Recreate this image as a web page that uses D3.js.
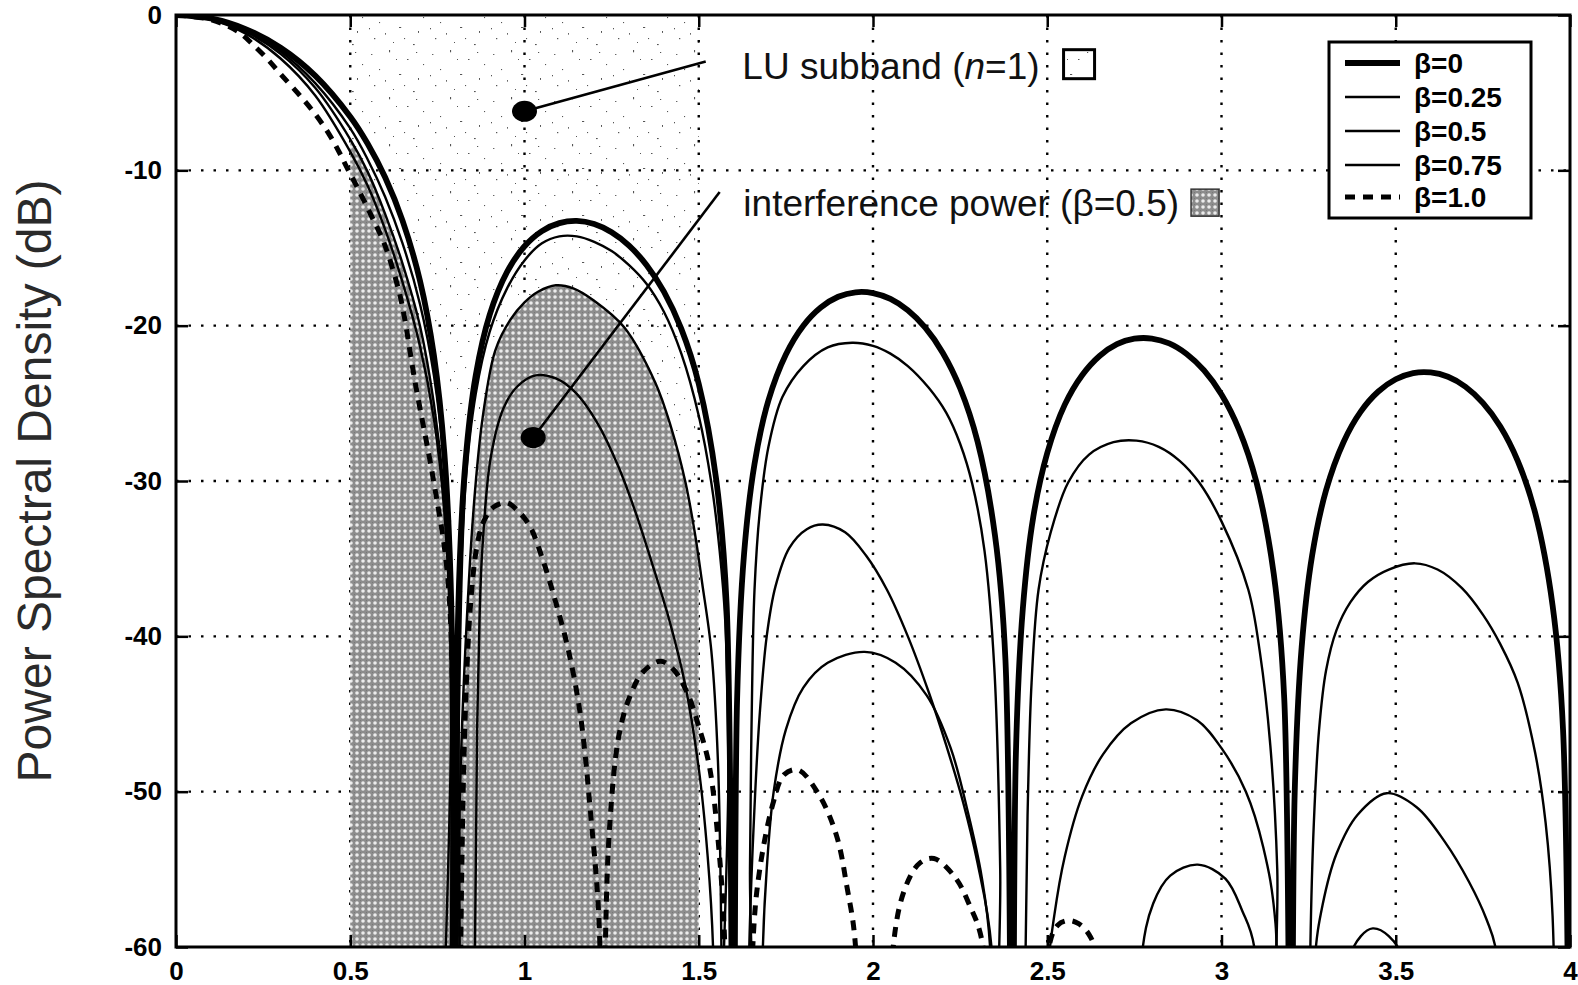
<!DOCTYPE html>
<html><head><meta charset="utf-8">
<script src="https://cdn.jsdelivr.net/npm/d3@7"></script>
<style>body{margin:0;background:#fff}svg{display:block}</style>
</head><body>
<svg id="chart" width="1578" height="985"></svg>
<script>
// ---------- data ----------
const xTicks = [0, 0.5, 1, 1.5, 2, 2.5, 3, 3.5, 4];
const xTickLabels = ["0", "0.5", "1", "1.5", "2", "2.5", "3", "3.5", "4"];
const yTicks = [0, -10, -20, -30, -40, -50, -60];
const yTickLabels = ["0", "-10", "-20", "-30", "-40", "-50", "-60"];
const seriesNames = ["β=0", "β=0.25", "β=0.5", "β=0.75", "β=1.0"];

const beta0 = [
[0,0],[0.1,-0.22],[0.2,-0.91],[0.3,-2.11],[0.4,-3.92],[0.5,-6.55],[0.55,-8.29],[0.6,-10.45],[0.65,-13.24],[0.7,-17.1],[0.74,-21.9],[0.77,-28.2],[0.79,-38.0],[0.8,-90],
[0.81,-38.2],[0.83,-28.9],[0.86,-23.2],[0.9,-19.3],[0.95,-16.54],[1.0,-14.89],[1.05,-13.91],[1.1,-13.4],[1.15,-13.26],[1.2,-13.46],[1.25,-13.99],[1.3,-14.85],[1.35,-16.09],[1.4,-17.81],[1.45,-20.21],[1.5,-23.75],[1.55,-29.9],[1.58,-37.96],[1.6,-90],
[1.61,-44.1],[1.63,-34.7],[1.66,-28.9],[1.7,-24.8],[1.75,-21.85],[1.8,-20.0],[1.85,-18.83],[1.9,-18.14],[1.95,-17.85],[2.0,-17.9],[2.05,-18.28],[2.1,-19.01],[2.15,-20.13],[2.2,-21.74],[2.25,-24.03],[2.3,-27.46],[2.35,-33.5],[2.38,-41.5],[2.4,-90],
[2.41,-47.6],[2.43,-38.2],[2.46,-32.3],[2.5,-28.2],[2.55,-25.1],[2.6,-23.19],[2.65,-21.95],[2.7,-21.19],[2.75,-20.84],[2.8,-20.83],[2.85,-21.14],[2.9,-21.82],[2.95,-22.88],[3.0,-24.43],[3.05,-26.67],[3.1,-30.05],[3.15,-36.0],[3.18,-44.0],[3.2,-90],
[3.21,-50.1],[3.23,-40.7],[3.26,-34.8],[3.3,-30.6],[3.35,-27.5],[3.4,-25.52],[3.45,-24.24],[3.5,-23.45],[3.55,-23.05],[3.6,-23.01],[3.65,-23.29],[3.7,-23.93],[3.75,-24.97],[3.8,-26.49],[3.85,-28.7],[3.9,-32.05],[3.95,-38.0],[3.98,-46.0],[4.0,-90]
];
const beta25 = [
[0,0],[0.1,-0.25],[0.2,-1.0],[0.3,-2.35],[0.4,-4.4],[0.5,-7.3],[0.55,-9.3],[0.6,-11.7],[0.65,-14.7],[0.7,-18.6],[0.74,-23.2],[0.77,-29.2],[0.79,-39],[0.8,-90],
[0.805,-90],[0.812,-45],[0.83,-30.5],[0.86,-24.4],[0.9,-20.4],[0.95,-17.6],[1.0,-15.8],[1.05,-14.7],[1.1,-14.25],[1.15,-14.25],[1.2,-14.6],[1.25,-15.2],[1.3,-16.1],[1.35,-17.3],[1.4,-19.1],[1.45,-21.8],[1.5,-25.8],[1.536,-30.1],[1.56,-34.5],[1.576,-39],[1.585,-48],[1.59,-90],
[1.64,-90],[1.647,-55],[1.652,-45],[1.66,-37],[1.675,-32],[1.7,-27.8],[1.74,-24.6],[1.8,-22.6],[1.87,-21.4],[1.94,-21.1],[2.0,-21.3],[2.05,-21.8],[2.1,-22.6],[2.16,-24.0],[2.21,-25.6],[2.25,-27.6],[2.285,-30.2],[2.32,-34.5],[2.348,-42],[2.365,-55],[2.372,-90],
[2.43,-90],[2.438,-60],[2.445,-50],[2.455,-43],[2.475,-37],[2.51,-33.3],[2.56,-30.1],[2.62,-28.3],[2.69,-27.5],[2.756,-27.4],[2.82,-27.8],[2.88,-28.7],[2.936,-30.1],[3.0,-32.6],[3.077,-37],[3.11,-41],[3.14,-47],[3.16,-55],[3.17,-90],
[3.245,-90],[3.255,-60],[3.265,-52],[3.28,-46],[3.3,-42.2],[3.33,-39.6],[3.37,-37.8],[3.42,-36.5],[3.48,-35.7],[3.555,-35.3],[3.62,-35.7],[3.69,-36.9],[3.75,-38.6],[3.8,-40.5],[3.85,-43],[3.9,-47.5],[3.93,-52],[3.95,-58],[3.965,-90]
];
const beta5 = [
[0,0],[0.1,-0.27],[0.2,-1.08],[0.3,-2.5],[0.4,-4.7],[0.5,-8.0],[0.55,-10.1],[0.6,-12.8],[0.65,-16.0],[0.7,-20.0],[0.74,-25],[0.77,-31],[0.79,-41],[0.8,-90],
[0.805,-90],[0.815,-50],[0.84,-36.6],[0.86,-30.1],[0.88,-25.9],[0.916,-21.6],[0.96,-19.6],[1.0,-18.5],[1.04,-17.8],[1.09,-17.4],[1.14,-17.6],[1.2,-18.4],[1.286,-20.1],[1.376,-23.7],[1.42,-26.5],[1.462,-30.1],[1.49,-33.5],[1.5,-35.0],[1.51,-36.6],[1.536,-40.9],[1.555,-48],[1.565,-60],[1.57,-90],
[1.63,-90],[1.645,-60],[1.66,-51],[1.675,-45],[1.695,-40],[1.72,-36.8],[1.76,-34.3],[1.81,-33.1],[1.856,-32.8],[1.92,-33.3],[1.98,-34.8],[2.04,-37.0],[2.1,-40.0],[2.16,-43.6],[2.21,-47.0],[2.26,-50.8],[2.3,-54.6],[2.34,-60],[2.352,-90],
[2.49,-90],[2.5,-62],[2.52,-58],[2.55,-54.2],[2.6,-50.3],[2.66,-47.6],[2.74,-45.6],[2.84,-44.7],[2.93,-45.4],[3.0,-47.2],[3.07,-50],[3.12,-53.6],[3.155,-58.5],[3.168,-90],
[3.255,-90],[3.267,-61],[3.29,-57.3],[3.33,-54],[3.39,-51.5],[3.474,-50.1],[3.56,-51.0],[3.64,-53.2],[3.71,-55.8],[3.76,-58.2],[3.79,-60.5],[3.8,-90]
];
const beta75 = [
[0,0],[0.1,-0.3],[0.2,-1.2],[0.3,-2.8],[0.4,-5.2],[0.5,-8.8],[0.55,-11.0],[0.6,-13.8],[0.65,-17.2],[0.7,-21.3],[0.74,-26],[0.77,-32],[0.79,-42],[0.8,-90],
[0.85,-90],[0.858,-60],[0.864,-46],[0.871,-38.8],[0.879,-34.4],[0.903,-28.5],[0.94,-25.3],[0.98,-23.9],[1.032,-23.2],[1.09,-23.4],[1.146,-24.3],[1.21,-26.3],[1.27,-29.1],[1.32,-32.1],[1.366,-35.3],[1.416,-39.0],[1.46,-43],[1.5,-48.5],[1.525,-54],[1.541,-60],[1.55,-90],
[1.675,-90],[1.684,-60],[1.695,-55],[1.715,-50],[1.75,-46],[1.8,-43.3],[1.87,-41.7],[1.976,-41.0],[2.065,-41.7],[2.154,-43.8],[2.223,-47.2],[2.272,-51.3],[2.312,-55.5],[2.336,-60],[2.345,-90],
[2.76,-90],[2.769,-61],[2.804,-57.2],[2.853,-55.4],[2.932,-54.7],[3.011,-55.6],[3.06,-57.7],[3.094,-60],[3.1,-90],
[3.355,-90],[3.365,-61],[3.40,-59.3],[3.434,-58.8],[3.48,-59.3],[3.523,-61],[3.53,-90]
];
const beta10 = [
[0,0],[0.1,-0.3],[0.18,-1.1],[0.225,-2.0],[0.265,-2.9],[0.3,-3.8],[0.36,-5.3],[0.4,-6.4],[0.44,-7.7],[0.47,-8.9],[0.49,-9.8],[0.525,-11.3],[0.56,-12.9],[0.59,-14.3],[0.61,-15.5],[0.64,-17.8],[0.655,-19.4],[0.685,-23.5],[0.74,-30.1],[0.778,-35.8],[0.795,-45],[0.805,-90],
[0.81,-90],[0.817,-60],[0.83,-45],[0.845,-38],[0.862,-34.4],[0.881,-32.7],[0.91,-31.7],[0.948,-31.4],[0.98,-31.9],[1.015,-32.9],[1.053,-35.1],[1.092,-38.0],[1.126,-40.9],[1.16,-45],[1.19,-51.5],[1.215,-59],[1.222,-90],
[1.226,-90],[1.232,-60],[1.245,-52],[1.27,-46.5],[1.3,-44],[1.34,-42.3],[1.39,-41.6],[1.43,-42.2],[1.47,-43.8],[1.5,-45.8],[1.53,-48.3],[1.555,-53],[1.575,-60],[1.585,-90],
[1.645,-90],[1.655,-60],[1.675,-55],[1.715,-50.6],[1.745,-48.9],[1.785,-48.6],[1.845,-50.2],[1.895,-52.8],[1.925,-56.1],[1.95,-60],[1.96,-90],
[2.05,-90],[2.058,-60],[2.094,-56.1],[2.134,-54.6],[2.175,-54.3],[2.235,-55.5],[2.275,-57.2],[2.315,-59.9],[2.325,-90],
[2.495,-90],[2.505,-60],[2.53,-58.6],[2.56,-58.3],[2.59,-58.5],[2.62,-59.2],[2.64,-60.5],[2.65,-90]
];

const luBand = [0.5, 1.5];                 // LU subband span (x)
const interfBand = [0.5, 1.5];             // shaded interference span (x)
const annotationDots = [[1.0, -6.2], [1.025, -27.2]];
const annotationEnds = [[1.52, -3.0], [1.56, -11.4]];
const annotationTextAt = [[1.625, -4.1], [1.628, -12.95]];

// ---------- layout / styles ----------
const FONT = "'Liberation Sans', Arial, Helvetica, sans-serif";
const svg = d3.select("#chart");
const x = d3.scaleLinear().domain([0, 4]).range([176, 1570]);
const y = d3.scaleLinear().domain([0, -60]).range([15, 947]);

const defs = svg.append("defs");
defs.append("clipPath").attr("id", "plotclip").append("rect")
  .attr("x", x(0)).attr("y", y(0)).attr("width", x(4) - x(0)).attr("height", y(-60) - y(0));

// sparse speckle pattern (LU subband)
const sp = defs.append("pattern").attr("id", "speckle").attr("patternUnits", "userSpaceOnUse")
  .attr("width", 61).attr("height", 47);
[[5,7,1.4,0.9],[23,3,1.1,2.3],[41,12,1.5,1.0],[13,22,1.1,1.1],[33,27,2.2,1.0],[52,31,1.0,1.9],
 [8,38,1.3,1.2],[27,42,1.0,1.0],[47,44,1.7,1.1],[57,17,1.1,1.1],[19,33,0.9,1.7],[38,38,1.1,1.1],
 [30,12,1.0,1.0],[50,5,1.2,1.0],[3,28,1.0,1.3]]
 .forEach(p => sp.append("rect").attr("x", p[0]).attr("y", p[1]).attr("width", p[2]).attr("height", p[3]).attr("fill", "#555"));

// halftone pattern (interference power)
const ht = defs.append("pattern").attr("id", "halftone").attr("patternUnits", "userSpaceOnUse")
  .attr("width", 6).attr("height", 6);
ht.append("rect").attr("width", 6).attr("height", 6).attr("fill", "#8d8d8d");
ht.append("circle").attr("cx", 3).attr("cy", 3).attr("r", 1.8).attr("fill", "#ececec");
ht.append("circle").attr("cx", 0).attr("cy", 0).attr("r", 0.7).attr("fill", "#555");

const plot = svg.append("g").attr("clip-path", "url(#plotclip)");

// LU subband speckle
plot.append("rect").attr("x", x(luBand[0])).attr("y", y(0))
  .attr("width", x(luBand[1]) - x(luBand[0])).attr("height", y(-60) - y(0))
  .attr("fill", "url(#speckle)");

// grid
const gridStyle = g => g.attr("stroke", "#000").attr("stroke-width", 2.4).attr("stroke-dasharray", "2.5,10");
plot.append("g").selectAll("line").data(xTicks.filter(v => v > 0 && v < 4)).join("line")
  .attr("x1", d => x(d)).attr("x2", d => x(d)).attr("y1", y(0)).attr("y2", y(-60)).call(gridStyle);
plot.append("g").selectAll("line").data(yTicks.filter(v => v < 0 && v > -60)).join("line")
  .attr("y1", d => y(d)).attr("y2", d => y(d)).attr("x1", x(0)).attr("x2", x(4)).call(gridStyle);

const curve = d3.curveCatmullRom.alpha(0.5);

// interference power shading under beta=0.5
const area = d3.area().x(d => x(d[0])).y0(y(-60)).y1(d => y(d[1])).curve(curve);
plot.append("path").datum(beta5.filter(d => d[0] >= interfBand[0] && d[0] <= interfBand[1]))
  .attr("d", area).attr("fill", "url(#halftone)");

// curves
const line = d3.line().x(d => x(d[0])).y(d => y(d[1])).curve(curve);
const seriesData = [beta0, beta25, beta5, beta75, beta10];
const seriesStyle = [
  {w: 5.8, dash: null},
  {w: 2.4, dash: null},
  {w: 2.4, dash: null},
  {w: 2.4, dash: null},
  {w: 5.0, dash: "10,8"}
];
seriesData.forEach((s, i) => {
  plot.append("path").datum(s).attr("d", line).attr("fill", "none")
    .attr("stroke", "#000").attr("stroke-width", seriesStyle[i].w)
    .attr("stroke-linejoin", "round")
    .attr("stroke-dasharray", seriesStyle[i].dash);
});

// axes with inward ticks
const tickStyle = g => { g.select(".domain").remove(); g.selectAll(".tick line").attr("stroke", "#000").attr("stroke-width", 2.5); };
const labelStyle = g => g.selectAll("text").attr("font-family", FONT).attr("font-weight", "bold")
  .attr("font-size", 26).attr("fill", "#000");
svg.append("g").attr("transform", `translate(${x(0)},0)`)
  .call(d3.axisLeft(y).tickValues(yTicks).tickFormat((d, i) => yTickLabels[i]).tickSize(-12).tickPadding(14))
  .call(tickStyle).call(labelStyle);
svg.append("g").attr("transform", `translate(0,${y(-60)})`)
  .call(d3.axisBottom(x).tickValues(xTicks).tickFormat((d, i) => xTickLabels[i]).tickSize(-12).tickPadding(15))
  .call(tickStyle).call(labelStyle);
svg.append("g").attr("transform", `translate(0,${y(0)})`)
  .call(d3.axisTop(x).tickValues(xTicks).tickFormat("").tickSize(-12)).call(tickStyle);
svg.append("g").attr("transform", `translate(${x(4)},0)`)
  .call(d3.axisRight(y).tickValues(yTicks).tickFormat("").tickSize(-12)).call(tickStyle);

// frame
svg.append("rect").attr("x", x(0)).attr("y", y(0)).attr("width", x(4) - x(0)).attr("height", y(-60) - y(0))
  .attr("fill", "none").attr("stroke", "#000").attr("stroke-width", 3);

// y axis title
svg.append("text").attr("transform", `translate(51,${(y(0) + y(-60)) / 2}) rotate(-90)`)
  .attr("text-anchor", "middle").attr("font-family", FONT).attr("font-size", 48).attr("fill", "#2a2a2a")
  .text("Power Spectral Density (dB)");

// annotations
const ann = svg.append("g");
annotationDots.forEach((p, i) => {
  ann.append("line").attr("x1", x(p[0])).attr("y1", y(p[1]))
    .attr("x2", x(annotationEnds[i][0])).attr("y2", y(annotationEnds[i][1]))
    .attr("stroke", "#000").attr("stroke-width", 2.6);
  ann.append("ellipse").attr("cx", x(p[0])).attr("cy", y(p[1])).attr("rx", 12.5).attr("ry", 10.5).attr("fill", "#000");
});
const t1 = ann.append("text").attr("x", x(annotationTextAt[0][0])).attr("y", y(annotationTextAt[0][1]))
  .attr("font-family", FONT).attr("font-size", 37).attr("fill", "#111");
t1.append("tspan").text("LU subband (");
t1.append("tspan").attr("font-style", "italic").text("n");
t1.append("tspan").text("=1)");
const t2 = ann.append("text").attr("x", x(annotationTextAt[1][0])).attr("y", y(annotationTextAt[1][1]))
  .attr("font-family", FONT).attr("font-size", 37).attr("fill", "#111")
  .text("interference power (β=0.5)");
const b1 = t1.node().getBBox(), b2 = t2.node().getBBox();
ann.append("rect").attr("x", b1.x + b1.width + 24).attr("y", y(annotationTextAt[0][1]) - 29)
  .attr("width", 31).attr("height", 29).attr("fill", "url(#speckle)").attr("stroke", "#000").attr("stroke-width", 3);
ann.append("rect").attr("x", b2.x + b2.width + 12).attr("y", y(annotationTextAt[1][1]) - 27)
  .attr("width", 28).attr("height", 27).attr("fill", "url(#halftone)").attr("stroke", "#333").attr("stroke-width", 1.5);

// legend
const lg = svg.append("g");
const lgBox = {x: 1329, y: 42, w: 202, h: 176};
lg.append("rect").attr("x", lgBox.x).attr("y", lgBox.y).attr("width", lgBox.w).attr("height", lgBox.h)
  .attr("fill", "#fff").attr("stroke", "#000").attr("stroke-width", 3);
const rowY = [63, 97, 131, 165, 197];
seriesNames.forEach((nm, i) => {
  lg.append("line").attr("x1", 1345).attr("x2", 1400).attr("y1", rowY[i]).attr("y2", rowY[i])
    .attr("stroke", "#000").attr("stroke-width", seriesStyle[i].w).attr("stroke-dasharray", seriesStyle[i].dash);
  lg.append("text").attr("x", 1414).attr("y", rowY[i] + 10).attr("font-family", FONT)
    .attr("font-weight", "bold").attr("font-size", 28).attr("fill", "#000").text(nm);
});
</script>
</body></html>
